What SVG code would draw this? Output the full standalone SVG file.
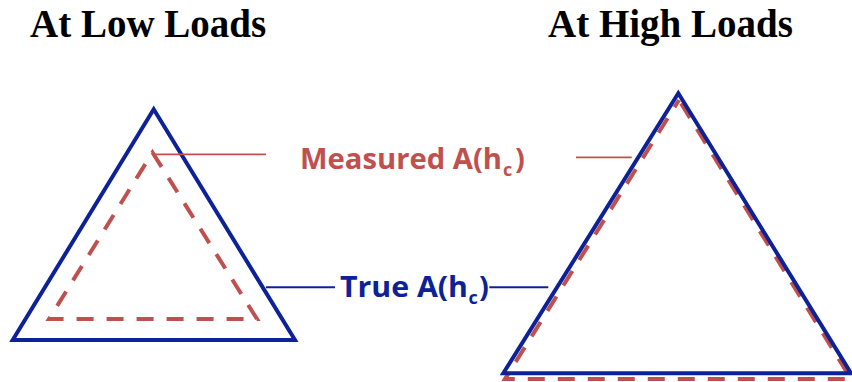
<svg xmlns="http://www.w3.org/2000/svg" width="852" height="382" viewBox="0 0 852 382">
<style>
.title{font-family:"Liberation Serif","Times New Roman",serif;font-weight:bold;font-size:39px;fill:#000}
.lbl{font-family:"Open Sans","DejaVu Sans",sans-serif;font-weight:bold;font-size:29px}
.red{fill:#C0504D}
.blue{fill:#0D2296}
.true{fill:none;stroke:#0D2296;stroke-width:4;stroke-linejoin:miter}
.meas{fill:none;stroke:#C0504D;stroke-width:4;stroke-dasharray:17 13}
.lr{stroke:#C0504D;stroke-width:1.7}
.lb{stroke:#0D2296;stroke-width:2}
</style>
<rect width="852" height="382" fill="#fff"/>
<g id="title-low"><text class="title" x="30" y="36.7">At Low Loads</text></g>
<g id="title-high"><text class="title" x="548" y="36.7">At High Loads</text></g>
<g id="low-true"><polygon class="true" points="153.7,109.3 295,340 12.7,340"/></g>
<g id="low-measured"><polygon class="meas" points="152.5,152.5 257,319 49,319"/></g>
<g id="high-measured"><polygon class="meas" points="679,100 851,379 505,379" stroke-dashoffset="-4"/></g>
<g id="high-true"><polygon class="true" points="678.3,93.3 851,373.3 503.3,373.3"/></g>
<g id="connectors">
<line class="lr" x1="152.7" y1="154.3" x2="266" y2="154.3"/>
<line class="lr" x1="576" y1="157.3" x2="631.7" y2="157.3"/>
<line class="lb" x1="266" y1="287.3" x2="335" y2="287.3"/>
<line class="lb" x1="489.3" y1="287.3" x2="548.3" y2="287.3"/>
</g>
<g id="label-measured"><text class="lbl red" y="169.3"><tspan x="300" textLength="202" lengthAdjust="spacingAndGlyphs">Measured A(h</tspan><tspan x="503" dy="7" font-size="18">c</tspan><tspan x="515" dy="-7">)</tspan></text></g>
<g id="label-true"><text class="lbl blue" y="296.7"><tspan x="340" textLength="128" lengthAdjust="spacingAndGlyphs">True A(h</tspan><tspan x="468.5" dy="7" font-size="18">c</tspan><tspan x="479" dy="-7">)</tspan></text></g>
</svg>
